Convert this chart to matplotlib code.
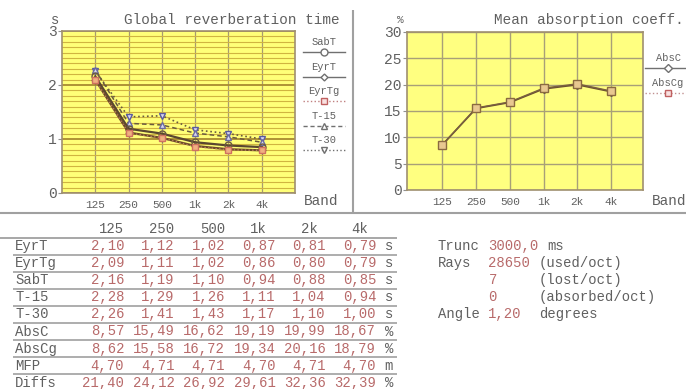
import matplotlib
matplotlib.use("Agg")
import matplotlib.pyplot as plt
import numpy as np

plt.rcParams['font.family'] = ['Liberation Mono', 'DejaVu Sans Mono']

# ---- data ----
bands = ['125', '250', '500', '1k', '2k', '4k']
eyrt = [2.10, 1.12, 1.02, 0.87, 0.81, 0.79]
eyrtg = [2.09, 1.11, 1.02, 0.86, 0.80, 0.79]
sabt = [2.16, 1.19, 1.10, 0.94, 0.88, 0.85]
t15 = [2.28, 1.29, 1.26, 1.11, 1.04, 0.94]
t30 = [2.26, 1.41, 1.43, 1.17, 1.10, 1.00]
absc = [8.57, 15.49, 16.62, 19.19, 19.99, 18.67]
abscg = [8.62, 15.58, 16.72, 19.34, 20.16, 18.79]
mfp = [4.70, 4.71, 4.71, 4.70, 4.71, 4.70]
diffs = [21.40, 24.12, 26.92, 29.61, 32.36, 32.39]

row_labels = ['EyrT', 'EyrTg', 'SabT', 'T-15', 'T-30', 'AbsC', 'AbsCg', 'MFP', 'Diffs']
row_values = [eyrt, eyrtg, sabt, t15, t30, absc, abscg, mfp, diffs]
row_units = ['s', 's', 's', 's', 's', '%', '%', 'm', '%']

trunc_ms = 3000.0
rays_used = 28650
rays_lost = 7
rays_absorbed = 0
angle_deg = 1.20

W, H = 686, 389
GRAY = '#606060'
RED = '#b86a6a'
LINE = '#a0a0a0'


def comma(v, d=2):
    return f"{v:.{d}f}".replace('.', ',')


fig = plt.figure(figsize=(W / 100, H / 100), dpi=100)
fig.patch.set_facecolor('white')

# overlay in pixel coordinates for texts / dividers
ov = fig.add_axes([0, 0, 1, 1])
ov.set_xlim(0, W)
ov.set_ylim(H, 0)
ov.axis('off')

# ---- left chart: reverberation time ----
ax1 = fig.add_axes([62 / W, 1 - 193 / H, 233 / W, 162 / H])
x = np.arange(len(bands))
ax1.set_facecolor('#ffff78')
ax1.set_xlim(-1, 6)
ax1.set_ylim(0, 3)
ax1.set_xticks(x)
ax1.set_xticklabels(bands)
ax1.set_yticks([0, 1, 2, 3])
ax1.set_yticks(np.arange(0, 3.01, 0.1), minor=True)
ax1.grid(which='minor', axis='y', color='#d0b440', lw=0.8)
ax1.grid(which='major', axis='y', color='#a88a30', lw=1.3)
ax1.grid(which='major', axis='x', color='#a89a70', lw=0.9)
ax1.set_axisbelow(True)
ax1.tick_params(axis='x', length=0, pad=5, labelsize=8, labelcolor=GRAY)
ax1.tick_params(axis='y', which='major', length=3, color='#909090', labelsize=10.5, labelcolor=GRAY, pad=1)
ax1.tick_params(axis='y', which='minor', length=0)
for s in ax1.spines.values():
    s.set_color('#a09070')
    s.set_linewidth(1.2)

series = [
    ('T-30', t30, dict(color='#6a5a40', ls=':', lw=1.2, marker='v', mec='#5a5aa0', mfc='#d8d8f0', ms=5)),
    ('T-15', t15, dict(color='#6a5a40', ls=(0, (3, 2)), lw=1.1, marker='^', mec='#6a6aa0', mfc='#d8d8f0', ms=5)),
    ('SabT', sabt, dict(color='#5a4630', ls='-', lw=1.6, marker='o', mec='#6a5a40', mfc='none', ms=5)),
    ('EyrT', eyrt, dict(color='#6a4a28', ls='-', lw=1.6, marker='D', mec='#6a5a40', mfc='none', ms=3.5)),
    ('EyrTg', eyrtg, dict(color='#c08060', ls=':', lw=1.0, marker='s', mec='#d07060', mfc='#f0b080', ms=5)),
]
for name, vals, st in series:
    ax1.plot(x, vals, zorder=3, **st)

# ---- right chart: mean absorption ----
ax2 = fig.add_axes([407 / W, 1 - 190 / H, 236 / W, 158 / H])
ax2.set_facecolor('#ffff80')
ax2.set_xlim(-1.05, 5.95)
ax2.set_ylim(0, 30)
ax2.set_xticks(x)
ax2.set_xticklabels(bands)
ax2.set_yticks(np.arange(0, 31, 5))
ax2.grid(color='#a8a078', lw=1.0)
ax2.set_axisbelow(True)
ax2.tick_params(axis='x', length=0, pad=5, labelsize=8, labelcolor=GRAY)
ax2.tick_params(axis='y', length=3, color='#909090', labelsize=10.5, labelcolor=GRAY, pad=1)
for s in ax2.spines.values():
    s.set_color('#a09070')
    s.set_linewidth(1.2)
ax2.plot(x, absc, color='#6a5030', lw=1.2, marker='D', ms=4, mec='#6a5a40', mfc='none', zorder=3)
ax2.plot(x, abscg, color='#7a6040', lw=1.0, marker='s', ms=6, mec='#8a6a40', mfc='#e8c890', zorder=3)

# ---- titles, units, axis names ----
ov.text(340, 20, 'Global reverberation time', ha='right', va='center', fontsize=10.4, color=GRAY)
ov.text(684, 20, 'Mean absorption coeff.', ha='right', va='center', fontsize=10.4, color=GRAY)
ov.text(55, 20, 's', ha='center', va='center', fontsize=10, color=GRAY)
ov.text(400, 20, '%', ha='center', va='center', fontsize=8, color=GRAY)
ov.text(304, 201, 'Band', ha='left', va='center', fontsize=10.4, color=GRAY)
ov.text(652, 201, 'Band', ha='left', va='center', fontsize=10.4, color=GRAY)

# ---- legends (label above a short line sample) ----
lx, lw_half = 324, 21
for i, (name, vals, st) in enumerate([series[2], series[3], series[4], series[1], series[0]]):
    yl = 42 + i * 24.5
    ov.text(lx, yl, name, ha='center', va='center', fontsize=7.5, color=GRAY)
    st2 = dict(st)
    st2['color'] = '#c08080' if name == 'EyrTg' else '#707070'
    st2['lw'] = 1.0
    st2['mfc'] = 'white' if name != 'EyrTg' else '#f8e0e0'
    st2['mec'] = '#c06060' if name == 'EyrTg' else '#707070'
    ov.plot([lx - lw_half, lx + lw_half], [yl + 10, yl + 10], **{k: v for k, v in st2.items() if k not in ('marker', 'mec', 'mfc', 'ms')})
    ov.plot([lx], [yl + 10], ls='none', marker=st2['marker'], mec=st2['mec'], mfc=st2['mfc'], ms=st2['ms'])

rx = 668
for i, (name, mk, lc, mec, mfc) in enumerate([('AbsC', 'D', '#707070', '#707070', 'white'),
                                              ('AbsCg', 's', '#c09090', '#c06060', '#f8e0e0')]):
    yl = 58 + i * 25
    ov.text(rx, yl, name, ha='center', va='center', fontsize=7.5, color=GRAY)
    ov.plot([rx - 23, rx + 23], [yl + 10, yl + 10], color=lc, lw=1.0, ls='-' if i == 0 else ':')
    ov.plot([rx], [yl + 10], ls='none', marker=mk, mec=mec, mfc=mfc, ms=4 if i == 0 else 5)

# ---- dividers ----
ov.vlines(353, 10, 213, color=LINE, lw=1.5)
ov.hlines(213, 0, W, color=LINE, lw=1.5)

# ---- table ----
cw = 8.4
x0 = 15
head_y = 229
row_y0, row_dy = 246, 17.1
ends = [x0 + (13 + 6 * j) * cw for j in range(len(bands))]
for j, b in enumerate(bands):
    xe = ends[j] - (cw if len(b) < 3 else 0)
    ov.text(xe, head_y, b, ha='right', va='center', fontsize=10, color=GRAY)
ov.hlines(head_y + 9, 0, 397, color=LINE, lw=1.3)
for i, (lab, vals, unit) in enumerate(zip(row_labels, row_values, row_units)):
    y = row_y0 + i * row_dy
    ov.text(x0, y, lab, ha='left', va='center', fontsize=10, color=GRAY)
    for j, v in enumerate(vals):
        ov.text(ends[j], y, comma(v), ha='right', va='center', fontsize=10, color=RED)
    ov.text(x0 + 44 * cw, y, unit, ha='left', va='center', fontsize=10, color=GRAY)
    ov.hlines(y + 8.5, 13, 397, color=LINE, lw=1.2)

# ---- run info ----
ix = 438
info = [
    ('Trunc', comma(trunc_ms, 1), 'ms', 13),
    ('Rays', str(rays_used), '(used/oct)', 12),
    ('', str(rays_lost), '(lost/oct)', 12),
    ('', str(rays_absorbed), '(absorbed/oct)', 12),
    ('Angle', comma(angle_deg), 'degrees', 12),
]
for i, (lab, val, unit, uc) in enumerate(info):
    y = row_y0 + i * row_dy
    if lab:
        ov.text(ix, y, lab, ha='left', va='center', fontsize=10, color=GRAY)
    ov.text(ix + 6 * cw, y, val, ha='left', va='center', fontsize=10, color=RED)
    ov.text(ix + uc * cw, y, unit, ha='left', va='center', fontsize=10, color=GRAY)

fig.savefig('out.png', dpi=100)
